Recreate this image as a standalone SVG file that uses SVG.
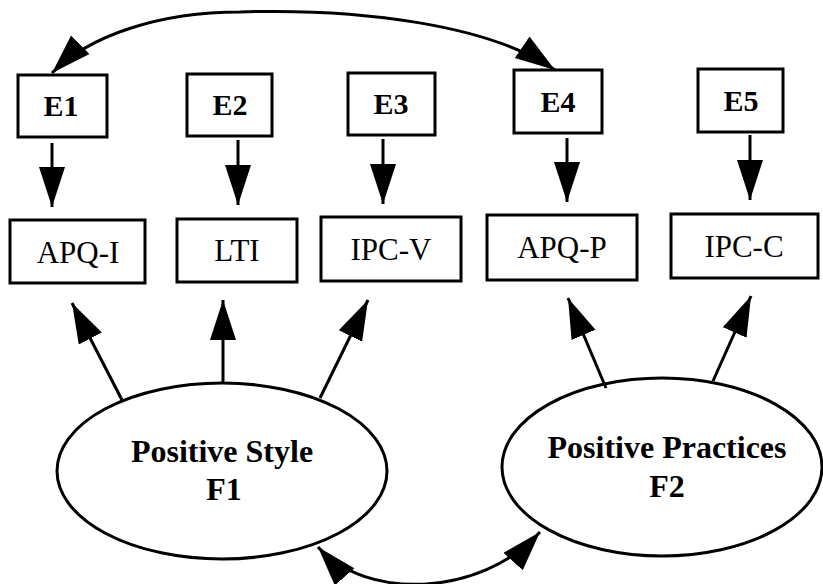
<svg xmlns="http://www.w3.org/2000/svg" width="823" height="584" viewBox="0 0 823 584">
  <style>
    .box { fill: #ffffff; stroke: #000000; stroke-width: 3; }
    .ell { fill: #ffffff; stroke: #000000; stroke-width: 3; }
    .ln { fill: none; stroke: #000000; stroke-width: 3; }
    text { font-family: 'Liberation Serif', 'DejaVu Serif', 'Times New Roman', serif; text-anchor: middle; fill: #000; }
    .e { font-weight: bold; font-size: 30px; }
    .m { font-size: 31px; }
    .f { font-weight: bold; font-size: 32px; }
  </style>
  <defs>
    <marker id="ah" markerUnits="userSpaceOnUse" markerWidth="42" markerHeight="28" refX="40" refY="13" orient="auto-start-reverse" viewBox="0 0 42 28">
      <path d="M0,0 L40,13 L0,26 z" fill="#000"/>
    </marker>
  </defs>
  <rect width="823" height="584" fill="#ffffff"/>

  <g id="E1"><rect class="box" x="18" y="75" width="89" height="62"/><text class="e" x="61" y="116">E1</text></g>
  <g id="E2"><rect class="box" x="187" y="74" width="85" height="62"/><text class="e" x="230" y="115">E2</text></g>
  <g id="E3"><rect class="box" x="348" y="73" width="87" height="62"/><text class="e" x="391" y="114">E3</text></g>
  <g id="E4"><rect class="box" x="514" y="70" width="88" height="63"/><text class="e" x="558" y="112">E4</text></g>
  <g id="E5"><rect class="box" x="698" y="69" width="85" height="63"/><text class="e" x="741" y="111">E5</text></g>

  <g id="APQ-I"><rect class="box" x="10" y="220" width="135" height="63"/><text class="m" x="78" y="263">APQ-I</text></g>
  <g id="LTI"><rect class="box" x="177" y="219" width="120" height="63"/><text class="m" x="237" y="261">LTI</text></g>
  <g id="IPC-V"><rect class="box" x="321" y="217" width="140" height="64"/><text class="m" x="391" y="260">IPC-V</text></g>
  <g id="APQ-P"><rect class="box" x="487" y="215" width="150" height="65"/><text class="m" x="562" y="258">APQ-P</text></g>
  <g id="IPC-C"><rect class="box" x="671" y="214" width="147" height="64"/><text class="m" x="744" y="257">IPC-C</text></g>

  <g id="F1"><ellipse class="ell" cx="222" cy="471" rx="165" ry="88"/><text class="f" x="222" y="462">Positive Style</text><text class="f" x="224" y="500">F1</text></g>
  <g id="F2"><ellipse class="ell" cx="662" cy="467" rx="160" ry="89"/><text class="f" x="667" y="458">Positive Practices</text><text class="f" x="667" y="497">F2</text></g>

  <g id="connectors">
    <line class="ln" x1="52" y1="143" x2="52" y2="207" marker-end="url(#ah)"/>
    <line class="ln" x1="238" y1="140" x2="238" y2="205" marker-end="url(#ah)"/>
    <line class="ln" x1="383" y1="139" x2="383" y2="204" marker-end="url(#ah)"/>
    <line class="ln" x1="567" y1="138" x2="567" y2="202" marker-end="url(#ah)"/>
    <line class="ln" x1="750" y1="135" x2="750" y2="200" marker-end="url(#ah)"/>

    <line class="ln" x1="122" y1="400" x2="72" y2="303" marker-end="url(#ah)"/>
    <line class="ln" x1="223" y1="383" x2="223" y2="300" marker-end="url(#ah)"/>
    <line class="ln" x1="320" y1="398" x2="368" y2="300" marker-end="url(#ah)"/>
    <line class="ln" x1="606" y1="388" x2="568" y2="298" marker-end="url(#ah)"/>
    <line class="ln" x1="713" y1="381" x2="751" y2="296" marker-end="url(#ah)"/>

    <path class="ln" d="M52,73 C90,35 160,12 240,12 C360,8 490,25 555,70" marker-start="url(#ah)" marker-end="url(#ah)"/>
    <path class="ln" d="M318,547 C365,600 480,598 540,532" marker-start="url(#ah)" marker-end="url(#ah)"/>
  </g>
</svg>
